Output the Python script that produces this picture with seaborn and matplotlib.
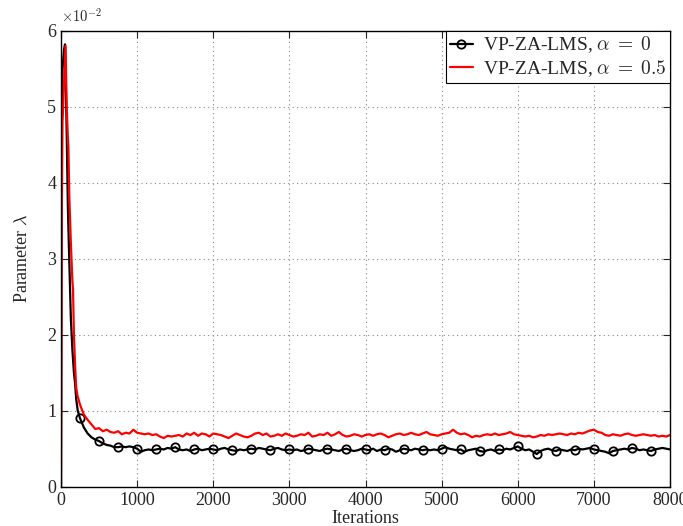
import numpy as np
import pandas as pd
import matplotlib
matplotlib.use("Agg")
import matplotlib.pyplot as plt
import seaborn as sns

# lambda values, in units of 1e-2
# start-up transient (iteration, value)
black_x_start = [0, 10, 20, 40, 53, 60, 75, 90, 100, 119, 130, 150, 170, 185, 200, 220]
black_y_start = [0.0, 4.8, 5.5, 5.75, 5.82, 5.5, 4.65, 3.7, 3.3, 2.63, 2.2, 1.8, 1.5, 1.36, 1.15, 1.0]
red_x_start = [0, 10, 20, 40, 60, 67, 75, 90, 97, 110, 130, 150, 158, 170, 185, 200, 216]
red_y_start = [0.0, 3.5, 4.8, 5.3, 5.8, 5.4, 5.0, 4.6, 4.47, 3.8, 3.2, 2.7, 2.6, 2.0, 1.6, 1.3, 1.2]

# steady part, one sample every 50 iterations from 250 to 8000
steady_x = np.arange(250, 8001, 50)
black_y_steady = [
    0.90, 0.78, 0.70, 0.65, 0.62, 0.60, 0.57, 0.55, 0.54, 0.52, 0.52, 0.53, 0.52, 0.53, 0.52, 0.50,
    0.46, 0.48, 0.49, 0.48, 0.49, 0.50, 0.49, 0.51, 0.50, 0.52, 0.49, 0.48, 0.49, 0.47, 0.49, 0.50, 0.48, 0.49, 0.50, 0.49,
    0.48, 0.50, 0.51, 0.49, 0.48, 0.47, 0.49, 0.48, 0.49, 0.50, 0.49, 0.51, 0.50, 0.49, 0.48, 0.50, 0.51, 0.49, 0.48, 0.49,
    0.48, 0.49, 0.47, 0.48, 0.50, 0.49, 0.48, 0.47, 0.49, 0.50, 0.49, 0.48, 0.47, 0.49, 0.50, 0.48, 0.47, 0.48, 0.50, 0.49,
    0.48, 0.50, 0.47, 0.49, 0.48, 0.50, 0.49, 0.46, 0.48, 0.50, 0.49, 0.48, 0.50, 0.49, 0.48, 0.49, 0.48, 0.49, 0.48, 0.50,
    0.52, 0.50, 0.49, 0.48, 0.49, 0.46, 0.48, 0.49, 0.50, 0.47, 0.46, 0.48, 0.49, 0.47, 0.49, 0.48, 0.50, 0.49, 0.51, 0.53,
    0.50, 0.48, 0.49, 0.46, 0.43, 0.47, 0.49, 0.50, 0.48, 0.47, 0.49, 0.48, 0.47, 0.49, 0.48, 0.50, 0.49, 0.50, 0.51, 0.49,
    0.48, 0.47, 0.46, 0.44, 0.47, 0.48, 0.49, 0.50, 0.49, 0.51, 0.50, 0.48, 0.49, 0.48, 0.47, 0.49, 0.50, 0.51, 0.50, 0.49,
]
red_y_steady = [
    1.08, 0.95, 0.88, 0.82, 0.76, 0.77, 0.73, 0.75, 0.72, 0.71, 0.73, 0.69, 0.71, 0.70, 0.75, 0.71,
    0.70, 0.69, 0.70, 0.68, 0.69, 0.66, 0.64, 0.67, 0.66, 0.67, 0.68, 0.66, 0.70, 0.68, 0.71, 0.67, 0.70, 0.69, 0.66, 0.70,
    0.69, 0.68, 0.66, 0.64, 0.67, 0.70, 0.68, 0.66, 0.65, 0.67, 0.70, 0.71, 0.68, 0.70, 0.66, 0.67, 0.69, 0.67, 0.70, 0.68,
    0.66, 0.67, 0.69, 0.68, 0.71, 0.66, 0.67, 0.69, 0.68, 0.71, 0.67, 0.69, 0.72, 0.68, 0.66, 0.67, 0.69, 0.68, 0.66, 0.68,
    0.69, 0.67, 0.69, 0.70, 0.68, 0.65, 0.67, 0.69, 0.70, 0.68, 0.69, 0.71, 0.69, 0.68, 0.70, 0.72, 0.69, 0.68, 0.67, 0.69,
    0.70, 0.71, 0.75, 0.71, 0.69, 0.70, 0.68, 0.65, 0.67, 0.66, 0.68, 0.69, 0.68, 0.70, 0.68, 0.69, 0.70, 0.72, 0.69, 0.68,
    0.67, 0.66, 0.67, 0.65, 0.66, 0.68, 0.67, 0.69, 0.68, 0.69, 0.70, 0.69, 0.68, 0.70, 0.69, 0.71, 0.70, 0.72, 0.74, 0.75,
    0.72, 0.71, 0.68, 0.67, 0.69, 0.68, 0.67, 0.69, 0.70, 0.68, 0.67, 0.68, 0.69, 0.68, 0.67, 0.68, 0.66, 0.67, 0.66, 0.68,
]

label_a0 = r"VP-ZA-LMS, $\alpha\;=\;0$"
label_a05 = r"VP-ZA-LMS, $\alpha\;=\;0.5$"

black = pd.DataFrame({
    "it": np.concatenate([black_x_start, steady_x]),
    "lam": np.concatenate([black_y_start, black_y_steady]),
})
red = pd.DataFrame({
    "it": np.concatenate([red_x_start, steady_x]),
    "lam": np.concatenate([red_y_start, red_y_steady]),
})

sns.set_style("ticks")
plt.rcParams["font.family"] = ["Liberation Serif", "DejaVu Serif"]
plt.rcParams["mathtext.fontset"] = "cm"

fig = plt.figure(figsize=(6.83, 5.26), dpi=100)
ax = fig.add_axes([0.0893, 0.0747, 0.8917, 0.867])

# circle markers every 250 iterations on the black curve
mark_idx = [i for i, v in enumerate(black["it"]) if v >= 250 and v % 250 == 0 and v < 8000]

sns.lineplot(data=black, x="it", y="lam", ax=ax, color="black", lw=1.6,
             marker="o", markevery=mark_idx, markersize=6, mfc="none",
             mec="black", mew=1.3, estimator=None, label=label_a0)
sns.lineplot(data=red, x="it", y="lam", ax=ax, color="#ff0000", lw=1.6,
             estimator=None, label=label_a05)

ax.set_xlim(0, 8000)
ax.set_ylim(0, 6)
ax.set_xticks(range(0, 8001, 1000))
ax.set_yticks(range(0, 7))
ax.grid(True, linestyle=(0, (1, 3)), color="#888888", lw=0.8)
ax.tick_params(direction="in", top=True, right=True, labelsize=13, length=5, width=0.8)
for s in ax.spines.values():
    s.set_color("black")
    s.set_linewidth(1.0)

ax.set_xlabel("Iterations", fontsize=13, labelpad=1)
ax.set_ylabel(r"Parameter $\lambda$", fontsize=13, labelpad=12)
ax.text(0.0, 1.012, r"$\times10^{-2}$", transform=ax.transAxes, fontsize=10.5,
        ha="left", va="bottom")

leg = ax.legend(loc="upper right", borderaxespad=0, fancybox=False,
                edgecolor="black", framealpha=1, fontsize=14, handlelength=1.2,
                handletextpad=0.5, borderpad=0.2, labelspacing=0.15)
leg.get_frame().set_linewidth(0.8)

fig.savefig("out.png", dpi=100)
